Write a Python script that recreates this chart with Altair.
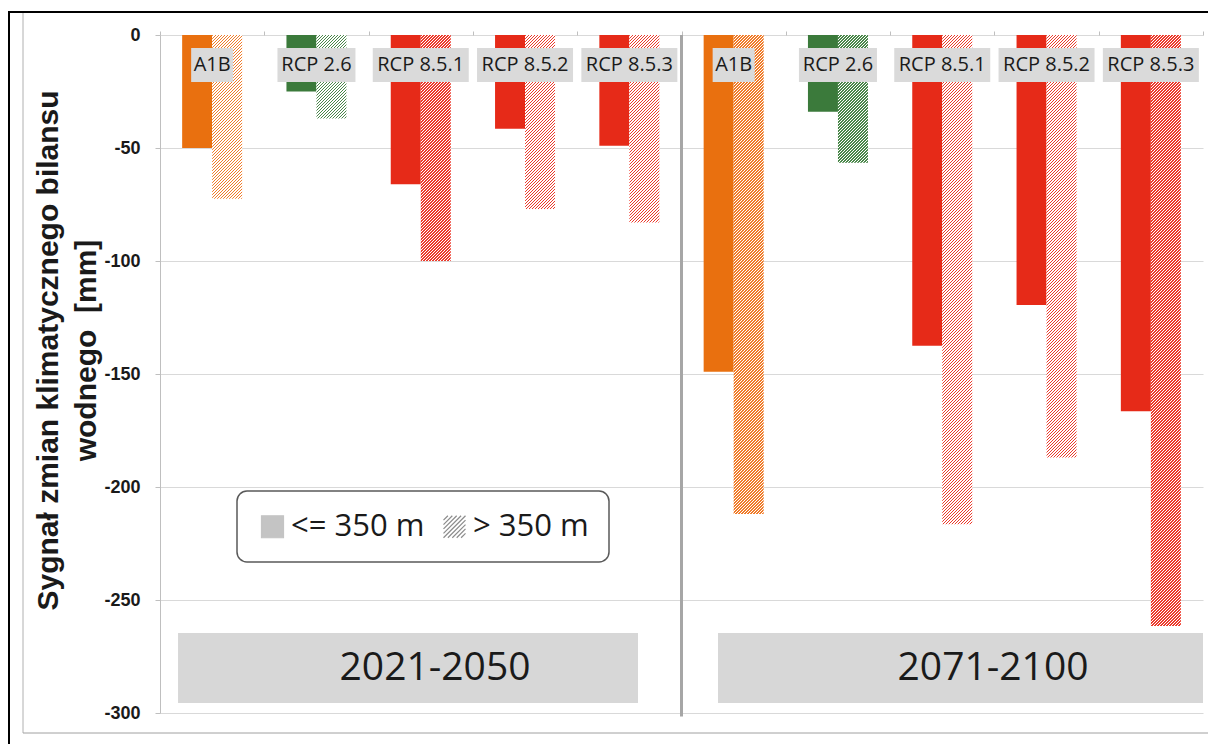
import altair as alt
import pandas as pd

# ---------------- data ----------------
scenarios = ["A1B", "RCP 2.6", "RCP 8.5.1", "RCP 8.5.2", "RCP 8.5.3"]
periods = ["2021-2050", "2071-2100"]
classes = ["<= 350 m", "> 350 m"]
low_2021_2050 = [-50, -25, -66, -41.5, -49]
high_2021_2050 = [-72.5, -37, -100, -77, -83]
low_2071_2100 = [-149, -34, -137.5, -119.5, -166.5]
high_2071_2100 = [-212, -56.5, -216.5, -187, -261.5]
y_ticks = [0, -50, -100, -150, -200, -250, -300]
y_title = ["Sygnał zmian klimatycznego bilansu", "wodnego\u00a0 [mm]"]

rows = []
for period, low, high in [(periods[0], low_2021_2050, high_2021_2050),
                          (periods[1], low_2071_2100, high_2071_2100)]:
    for sc, lv, hv in zip(scenarios, low, high):
        g = f"{period} | {sc}"
        rows.append(dict(group=g, period=period, scenario=sc, klasa=classes[0], value=lv))
        rows.append(dict(group=g, period=period, scenario=sc, klasa=classes[1], value=hv))
df = pd.DataFrame(rows)
group_keys = list(dict.fromkeys(df["group"]))
one = pd.DataFrame({"k": [0]})

# ---------------- styles ----------------
solid_colors = ["#e9700f", "#3b7a3b", "#e62a18", "#e62a18", "#e62a18"]
hatch_colors = {"A1B": "#f07c2a", "RCP 2.6": "#4a874a", "RCP 8.5.1": "#ec3a2c",
                "RCP 8.5.2": "#ec3a2c", "RCP 8.5.3": "#ec3a2c"}
PLOT_W, PLOT_H = 1043, 678
BAR_W = 30
STEP = PLOT_W / len(group_keys)
OFF_PAD = (STEP / BAR_W - 2) / 2
HATCH_PERIOD, HATCH_ON = 3.0, 1.4
TEXT = "#1a1a1a"


def hatch_fill(color, value):
    w = BAR_W
    h = abs(value) * PLOT_H / 300.0
    total = w + h
    stops = []
    s = 0.0
    while s < total:
        a = round(s / total, 5)
        b = round(min(s + HATCH_ON, total) / total, 5)
        c = round(min(s + HATCH_PERIOD, total) / total, 5)
        stops += [{"offset": a, "color": color}, {"offset": b, "color": color},
                  {"offset": b, "color": "white"}, {"offset": c, "color": "white"}]
        s += HATCH_PERIOD
    k = total / (w * w + h * h)
    return {"gradient": "linear", "x1": 0, "y1": 0, "x2": k * w, "y2": k * h, "stops": stops}


x_axis = alt.Axis(orient="top", labels=False, title=None, domain=False, ticks=True,
                  tickBand="extent", tickSize=4, tickColor="#bfbfbf", grid=False)
y_axis = alt.Axis(values=y_ticks, labelExpr="'' + datum.value", labelFont="Liberation Sans",
                  labelFontWeight="bold", labelFontSize=18, labelColor=TEXT, labelPadding=15,
                  tickSize=5, tickColor="#bfbfbf", domainColor="#bfbfbf", gridColor="#d9d9d9",
                  titleFont="Liberation Sans", titleFontWeight="bold", titleFontSize=30,
                  titleColor=TEXT, titleX=-103, titleY=315, titleAlign="center",
                  titleBaseline="alphabetic", titleAngle=270, titleLineHeight=38)

x_enc = alt.X("group:N", scale=alt.Scale(domain=group_keys, paddingInner=0, paddingOuter=0),
              axis=x_axis, title=None)
xoff = alt.XOffset("klasa:N", scale=alt.Scale(domain=classes, paddingInner=0, paddingOuter=OFF_PAD))
y_enc = alt.Y("value:Q", scale=alt.Scale(domain=[-300, 0], nice=False, zero=False),
              axis=y_axis, title=y_title)

base = alt.Chart(df)

solid = base.transform_filter(alt.datum.klasa == classes[0]).mark_bar().encode(
    x=x_enc, xOffset=xoff, y=y_enc,
    color=alt.Color("scenario:N", scale=alt.Scale(domain=scenarios, range=solid_colors), legend=None),
)

hatched_layers = []
for r in df[df["klasa"] == classes[1]].itertuples():
    hatched_layers.append(
        base.transform_filter((alt.datum.group == r.group) & (alt.datum.klasa == classes[1]))
        .mark_bar(fill=hatch_fill(hatch_colors[r.scenario], r.value))
        .encode(x=x_enc, xOffset=xoff, y=y_enc)
    )

# legend host (invisible points, real legend)
hatch_path = ("M-1,-0.6L-0.6,-1M-1,-0.2L-0.2,-1M-1,0.2L0.2,-1M-1,0.6L0.6,-1M-1,1L1,-1"
              "M-0.6,1L1,-0.6M-0.2,1L1,-0.2M0.2,1L1,0.2M0.6,1L1,0.6")
leg = alt.Legend(title=None, orient="none", legendX=77, legendY=456, direction="horizontal",
                 padding=20, strokeColor="#595959", cornerRadius=10, fillColor="white",
                 labelFont="Open Sans", labelFontSize=31, labelColor=TEXT, labelOffset=3,
                 columnPadding=14, symbolSize=484, symbolStrokeWidth=1.2, symbolOpacity=1)
legend_host = base.mark_point(opacity=0, filled=True).encode(
    x=x_enc, xOffset=xoff, y=y_enc,
    shape=alt.Shape("klasa:N", scale=alt.Scale(domain=classes, range=["square", hatch_path]), legend=leg),
    fill=alt.Fill("klasa:N", scale=alt.Scale(domain=classes, range=["#c4c4c4", "transparent"]), legend=leg),
    stroke=alt.Stroke("klasa:N", scale=alt.Scale(domain=classes, range=["#c4c4c4", "#8c8c8c"]), legend=leg),
)

# scenario labels with grey boxes
labels_base = base.transform_filter(alt.datum.klasa == classes[0]).transform_calculate(
    box_w="9*length(datum.scenario)+15")
label_box = labels_base.mark_bar(color="#dadada").encode(
    x=x_enc, y=alt.YDatum(-5.75), y2=alt.Y2Datum(-20.8),
    size=alt.Size("box_w:Q", scale=None, legend=None),
)
label_text = labels_base.mark_text(font="Open Sans", fontSize=20, color=TEXT, baseline="middle").encode(
    x=x_enc, y=alt.YDatum(-13.3), text="scenario:N")

# period boxes
period_boxes = []
for (g1, b1, g2, b2, gt, bt, name) in [(0, 0.173, 4, 0.583, 2, 0.637, periods[0]),
                                       (5, 0.35, 9, 1.0, 7, 0.987, periods[1])]:
    period_boxes.append(alt.Chart(one).mark_rect(color="#d7d7d7").encode(
        x=alt.XDatum(group_keys[g1], type="nominal", bandPosition=b1),
        x2=alt.X2Datum(group_keys[g2], bandPosition=b2),
        y=alt.YDatum(-264.6), y2=alt.Y2Datum(-295.6)))
    period_boxes.append(alt.Chart(one).mark_text(font="Open Sans", fontSize=39, color=TEXT,
                                                 baseline="middle").encode(
        x=alt.XDatum(group_keys[gt], type="nominal", bandPosition=bt),
        y=alt.YDatum(-280), text=alt.value(name)))

divider = alt.Chart(one).mark_rule(color="#a6a6a6", strokeWidth=3).encode(
    x=alt.XDatum(group_keys[5], type="nominal", bandPosition=0),
    y=alt.YDatum(0), y2=alt.Y2Datum(-301.5))

# outer frame decoration
frame = [
    alt.Chart(one).mark_rule(color="black", strokeWidth=2).encode(
        x=alt.value(-152), x2=alt.value(1048), y=alt.value(-23)),
    alt.Chart(one).mark_rule(color="black", strokeWidth=2).encode(
        x=alt.value(-151), y=alt.value(-23), y2=alt.value(709)),
    alt.Chart(one).mark_rule(color="#b0b0b0", strokeWidth=1).encode(
        x=alt.value(-137), y=alt.value(-22), y2=alt.value(698)),
    alt.Chart(one).mark_rule(color="#a0a0a0", strokeWidth=1).encode(
        x=alt.value(-137), x2=alt.value(1048), y=alt.value(698)),
]

chart = alt.layer(
    solid, *hatched_layers, legend_host, label_box, label_text, *period_boxes, divider, *frame
).properties(
    width=PLOT_W, height=PLOT_H,
    autosize=alt.AutoSizeParams(type="none"),
    padding={"left": 152, "top": 27, "right": 13, "bottom": 31},
    background="white",
).configure_view(stroke=None).configure_legend(strokeWidth=1.5)

chart.save("out.html", embed_options={"renderer": "svg", "actions": False})
